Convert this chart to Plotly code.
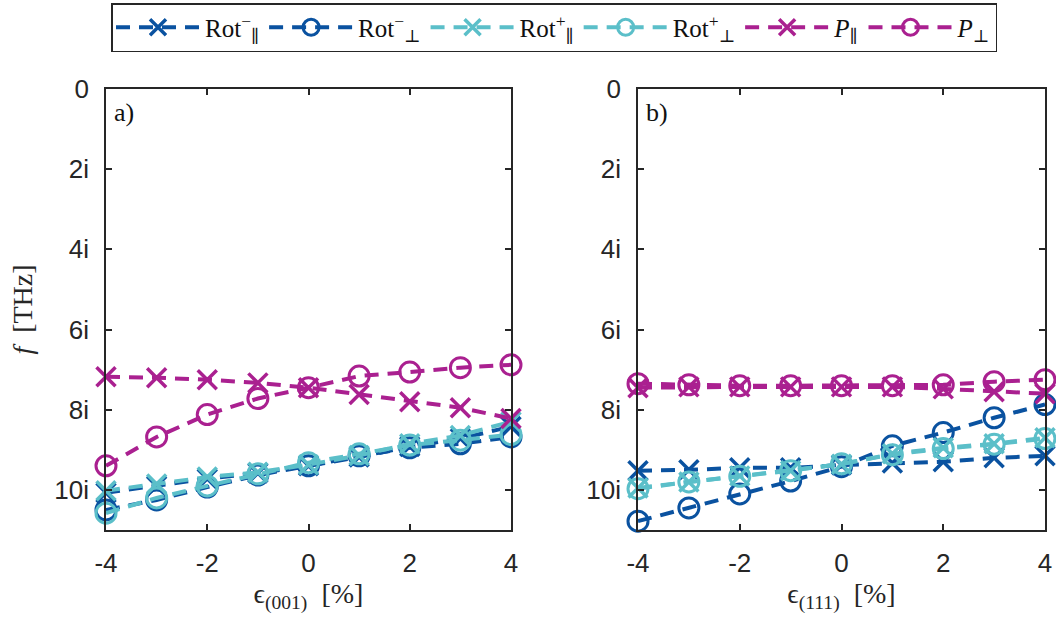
import plotly.graph_objects as go

# strain values [%]
strain = [-4, -3, -2, -1, 0, 1, 2, 3, 4]

# (001) strain: imaginary frequencies [THz]
rot_m_par_a = [10.07, 9.9, 9.72, 9.58, 9.4, 9.18, 8.92, 8.72, 8.42]
rot_m_perp_a = [10.5, 10.25, 9.93, 9.63, 9.4, 9.15, 8.95, 8.85, 8.68]
rot_p_par_a = [10.02, 9.85, 9.68, 9.56, 9.37, 9.14, 8.85, 8.64, 8.3]
rot_p_perp_a = [10.58, 10.2, 9.9, 9.6, 9.32, 9.1, 8.88, 8.76, 8.62]
p_par_a = [7.18, 7.2, 7.25, 7.33, 7.45, 7.62, 7.8, 7.95, 8.22]
p_perp_a = [9.4, 8.68, 8.12, 7.72, 7.45, 7.16, 7.06, 6.95, 6.88]

# (111) strain: imaginary frequencies [THz]
rot_m_par_b = [9.52, 9.5, 9.45, 9.45, 9.38, 9.33, 9.3, 9.2, 9.15]
rot_m_perp_b = [10.78, 10.45, 10.1, 9.78, 9.42, 8.9, 8.57, 8.2, 7.87]
rot_p_par_b = [9.95, 9.8, 9.65, 9.52, 9.36, 9.1, 8.95, 8.85, 8.7]
rot_p_perp_b = [9.97, 9.8, 9.66, 9.52, 9.35, 9.12, 8.97, 8.86, 8.72]
p_par_b = [7.45, 7.43, 7.43, 7.43, 7.43, 7.43, 7.48, 7.55, 7.6]
p_perp_b = [7.35, 7.38, 7.4, 7.4, 7.4, 7.4, 7.38, 7.3, 7.25]

series_names = ["Rot<sup>−</sup><sub>∥</sub>", "Rot<sup>−</sup><sub>⊥</sub>",
                "Rot<sup>+</sup><sub>∥</sub>", "Rot<sup>+</sup><sub>⊥</sub>",
                "<i>P</i><sub>∥</sub>", "<i>P</i><sub>⊥</sub>"]

y_ticks = [0, 2, 4, 6, 8, 10]
y_tick_labels = ["0", "2i", "4i", "6i", "8i", "10i"]
x_ticks = [-4, -2, 0, 2, 4]
x_tick_labels = ["-4", "-2", "0", "2", "4"]

DARK = "#0a52a0"
CYAN = "#5bbfc9"
MAG = "#aa2090"
colors = [DARK, DARK, CYAN, CYAN, MAG, MAG]
symbols = ["x-thin-open", "circle-open"] * 3

panel_a = [rot_m_par_a, rot_m_perp_a, rot_p_par_a, rot_p_perp_a, p_par_a, p_perp_a]
panel_b = [rot_m_par_b, rot_m_perp_b, rot_p_par_b, rot_p_perp_b, p_par_b, p_perp_b]

fig = go.Figure()
for panel, (xa, ya) in ((panel_a, ("x", "y")), (panel_b, ("x2", "y2"))):
    for i, vals in enumerate(panel):
        fig.add_trace(go.Scatter(
            x=strain, y=vals, xaxis=xa, yaxis=ya,
            mode="lines+markers",
            name=series_names[i],
            legendgroup=str(i),
            showlegend=(xa == "x"),
            cliponaxis=False,
            line=dict(color=colors[i], width=4, dash="14px,9px"),
            marker=dict(symbol=symbols[i], size=19 if i % 2 == 0 else 20,
                        color=colors[i],
                        line=dict(color=colors[i], width=3.5 if i % 2 == 0 else 3)),
        ))

W, H = 1056, 621
axis_col = "#262626"
tick_font = dict(family="Liberation Sans, Arial", size=26, color="#262626")
serif = "Liberation Serif, DejaVu Serif, serif"

def xaxis_cfg(dom, title):
    return dict(domain=dom, range=[-4, 4], tickvals=x_ticks, ticktext=x_tick_labels,
                ticks="inside", ticklen=6, tickwidth=1.5, tickcolor=axis_col,
                showline=True, linecolor=axis_col, linewidth=1.5, mirror="ticks",
                showgrid=False, zeroline=False, tickfont=tick_font, automargin=False,
                ticklabelstandoff=9,
                title=dict(text=title, font=dict(family=serif, size=28, color="#262626"),
                           standoff=6))

def yaxis_cfg(anchor, title=None):
    d = dict(domain=[1 - 530 / H, 1 - 89 / H], range=[11, 0], anchor=anchor,
             tickvals=y_ticks, ticktext=y_tick_labels,
             ticks="inside", ticklen=6, tickwidth=1.5, tickcolor=axis_col,
             showline=True, linecolor=axis_col, linewidth=1.5, mirror="ticks",
             showgrid=False, zeroline=False, tickfont=tick_font, automargin=False,
             ticklabelstandoff=10)
    if title:
        d["title"] = dict(text=title, font=dict(family=serif, size=28, color="#262626"),
                          standoff=14)
    return d

fig.update_layout(
    width=W, height=H,
    margin=dict(l=0, r=0, t=0, b=0, autoexpand=False),
    paper_bgcolor="white", plot_bgcolor="white",
    xaxis=xaxis_cfg([106 / W, 511 / W], "ϵ<sub>(001)</sub>  [%]"),
    yaxis=yaxis_cfg("x", "<i>f</i>  [THz]"),
    xaxis2=xaxis_cfg([638 / W, 1045 / W], "ϵ<sub>(111)</sub>  [%]") | dict(anchor="y2"),
    yaxis2=yaxis_cfg("x2"),
    legend=dict(orientation="h", x=111 / W, y=1 - 3 / H, xanchor="left", yanchor="top",
                bordercolor="#262626", borderwidth=1.5, bgcolor="white",
                font=dict(family=serif, size=25, color="#111111"),
                itemwidth=84, tracegroupgap=0),
    annotations=[
        dict(text="a)", xref="x domain", yref="y domain", x=0.015, y=0.985,
             xanchor="left", yanchor="top", showarrow=False,
             font=dict(family=serif, size=26, color="#111111")),
        dict(text="b)", xref="x2 domain", yref="y2 domain", x=0.015, y=0.985,
             xanchor="left", yanchor="top", showarrow=False,
             font=dict(family=serif, size=26, color="#111111")),
    ],
)

fig.write_html("out.html")
